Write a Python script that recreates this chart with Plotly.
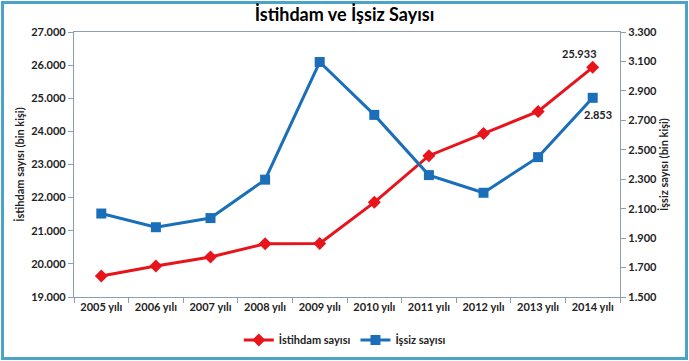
import plotly.graph_objects as go

years = ["2005 yılı", "2006 yılı", "2007 yılı", "2008 yılı", "2009 yılı",
         "2010 yılı", "2011 yılı", "2012 yılı", "2013 yılı", "2014 yılı"]
istihdam = [19633, 19933, 20209, 20604, 20615, 21858, 23266, 23937, 24601, 25933]
issiz = [2067, 1974, 2036, 2297, 3096, 2737, 2328, 2208, 2450, 2853]

left_ticks = [19000, 20000, 21000, 22000, 23000, 24000, 25000, 26000, 27000]
right_ticks = [1500, 1700, 1900, 2100, 2300, 2500, 2700, 2900, 3100, 3300]

RED = "#E8141B"
BLUE = "#1A6FB8"
AX = "#8C9FAE"
FONT = "Lato"

fig = go.Figure()
fig.add_trace(go.Scatter(
    x=years, y=istihdam, name="İstihdam sayısı", mode="lines+markers",
    line=dict(color=RED, width=3), marker=dict(symbol="diamond", size=10, color=RED),
    yaxis="y"))
fig.add_trace(go.Scatter(
    x=years, y=issiz, name="İşsiz sayısı", mode="lines+markers",
    line=dict(color=BLUE, width=3), marker=dict(symbol="square", size=10, color=BLUE),
    yaxis="y2"))

tickfont = dict(family=FONT, size=11, color="#222222", weight="bold")
titlefont = dict(family=FONT, size=11, color="#222222", weight="bold")

fig.update_layout(
    width=689, height=361,
    margin=dict(l=74, r=69, t=32, b=64, autoexpand=False),
    paper_bgcolor="white", plot_bgcolor="white",
    separators=",.",
    title=dict(text="İstihdam ve İşsiz Sayısı", x=0.5, xanchor="center",
               y=1 - 15 / 361, yanchor="middle",
               font=dict(family=FONT, size=18, color="black", weight="bold")),
    xaxis=dict(type="category", showline=True, linecolor=AX, linewidth=1.2,
               mirror=True, ticks="outside", ticklen=5, tickcolor=AX,
               tickson="boundaries", showgrid=False, tickfont=tickfont,
               range=[-0.5, 9.5], automargin=False),
    yaxis=dict(range=[19000, 27000], tickvals=left_ticks, tickformat=",",
               showline=True, linecolor=AX, linewidth=1.2, ticks="outside",
               ticklen=5, tickcolor=AX, showgrid=False, zeroline=False,
               tickfont=tickfont, automargin=False,
               title=dict(text="İstihdam sayısı (bin kişi)", standoff=4,
                          font=titlefont)),
    yaxis2=dict(range=[1500, 3300], tickvals=right_ticks, tickformat=",",
                overlaying="y", side="right",
                showline=True, linecolor=AX, linewidth=1.2, ticks="outside",
                ticklen=5, tickcolor=AX, showgrid=False, zeroline=False,
                tickfont=tickfont, automargin=False,
                title=dict(text="İşsiz sayısı (bin kişi)", standoff=2,
                           font=titlefont)),
    legend=dict(orientation="h", x=0.496, xanchor="center",
                y=-0.162, yanchor="middle",
                font=dict(family=FONT, size=11, color="#222222", weight="bold"),
                itemwidth=30, tracegroupgap=0),
    showlegend=True,
)

fig.add_annotation(x=years[-1], y=istihdam[-1], xref="x", yref="y",
                   text=f"{istihdam[-1]/1000:.3f}",
                   showarrow=False, xshift=-13, yshift=14,
                   font=dict(family=FONT, size=11, color="#222222", weight="bold"))
fig.add_annotation(x=years[-1], y=issiz[-1], xref="x", yref="y2",
                   text=f"{issiz[-1]/1000:.3f}",
                   showarrow=False, xshift=5, yshift=-17,
                   font=dict(family=FONT, size=11, color="#222222", weight="bold"))

# outer frame
fig.add_shape(type="rect", xref="paper", yref="paper",
              x0=(2.5 - 74) / 546, x1=(686.5 - 74) / 546,
              y0=(297 - 358.5) / 265, y1=(297 - 2.5) / 265,
              line=dict(color="#4BA3C8", width=3), layer="below")

fig.write_html("out.html", config={"displayModeBar": False},
               post_script="document.body.style.margin='0';document.body.style.overflow='hidden';")
